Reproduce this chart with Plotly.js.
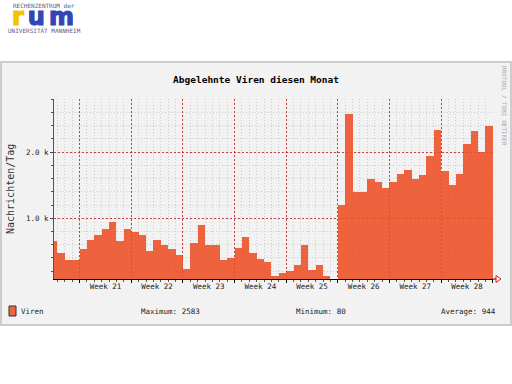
<!DOCTYPE html>
<html><head><meta charset="utf-8">
<script src="https://cdn.plot.ly/plotly-3.0.1.min.js"></script>
<style>html,body{margin:0;padding:0;background:#fff;}#chart{width:512px;height:384px;}</style>
</head><body><div id="chart"></div>
<script>
// ---- data ----
const dayOffsets = [-4,-3,-2,-1,0,1,2,3,4,5,6,7,8,9,10,11,12,13,14,15,16,17,18,19,20,21,22,23,24,25,26,27,28,29,30,31,32,33,34,35,36,37,38,39,40,41,42,43,44,45,46,47,48,49,50,51,52,53,54,55];
const virenPerDay = [659,473,371,371,533,674,739,836,942,648,836,791,750,508,674,598,533,436,235,624,891,598,598,361,397,548,709,473,390,330,133,170,194,295,598,220,285,118,80,1205,2583,1391,1391,1594,1542,1452,1542,1674,1724,1594,1659,1947,2341,1709,1508,1674,2129,2326,2003,2402];
const weekStarts = [0,7,14,21,28,35,42,49,56];
const weekLabels = ["Week 21","Week 22","Week 23","Week 24","Week 25","Week 26","Week 27","Week 28"];
const yTickValues = [1000,2000];
const yTickLabels = ["1.0 k","2.0 k"];
const seriesName = "Viren";
const statLabels = ["Maximum: 2583","Minimum: 80","Average: 944"];

// ---- geometry helpers (pixel -> paper) ----
const L=54, R=493, T=99, B=279;
const px = x => (x-L)/(R-L);
const py = y => (B-y)/(B-T);
const MONO = 'DejaVu Sans Mono, Liberation Mono, monospace';
const barColor = 'rgba(237,75,33,0.86)';
const xRange = [-3.47, 56.03];
// label positions: middle of each week
const weekMids = weekLabels.map((_, i) => weekStarts[i] + 3.5);

const bars = {
  type:'bar', x:dayOffsets, y:virenPerDay, offset:0, width:1,
  name:seriesName, marker:{color:barColor, line:{width:0}}, hoverinfo:'skip'
};
const weekAxisCarrier = {
  type:'scatter', xaxis:'x2', yaxis:'y', x:weekStarts, y:weekStarts.map(() => null),
  mode:'none', hoverinfo:'skip', showlegend:false
};

const majorGrid = 'rgba(190,40,40,0.85)';
const minorGrid = '#cdcdcd';

const bigStyle = 'letter-spacing:4px;stroke-width:1.2px';
const logoLetters =
  `<span style="${bigStyle};color:#f2c400;stroke:#f2c400">r</span>` +
  `<span style="${bigStyle};color:#3345b5;stroke:#3345b5">um</span>`;

const layout = {
  width:512, height:384,
  margin:{l:L, r:512-R, t:T, b:384-B, pad:0},
  paper_bgcolor:'#ffffff', plot_bgcolor:'#ffffff',
  showlegend:false, bargap:0,
  font:{family:MONO, size:7.5, color:'#222'},
  title:{text:'Abgelehnte Viren diesen Monat', x:0.5, xref:'container', xanchor:'center',
         y:1-80/384, yref:'container', yanchor:'middle',
         font:{family:MONO, size:9.5, color:'#000', weight:'bold'}},
  xaxis:{range:xRange, tickmode:'array', tickvals:weekMids, ticktext:weekLabels,
         showgrid:false, ticks:'', showline:true, linecolor:'#000', linewidth:1,
         zeroline:false, fixedrange:true, tickfont:{family:MONO, size:7.5, color:'#222'},
         minor:{tickmode:'linear', tick0:0, dtick:1, showgrid:true, gridcolor:minorGrid,
                griddash:'1px,2px', gridwidth:1, ticks:'outside', ticklen:2, tickcolor:'#555'}},
  xaxis2:{range:xRange, overlaying:'x', anchor:'y', side:'bottom', tickmode:'array', tickvals:weekStarts,
          showticklabels:false, showgrid:true, gridcolor:majorGrid, griddash:'2px,2px', gridwidth:1,
          ticks:'outside', ticklen:3, tickcolor:'#000', showline:false, zeroline:false, fixedrange:true},
  yaxis:{range:[80,2805], tickmode:'array', tickvals:yTickValues, ticktext:yTickLabels,
         showgrid:true, gridcolor:majorGrid, griddash:'2px,2px', gridwidth:1,
         ticks:'outside', ticklen:3, tickcolor:'#444', showline:true, linecolor:'#555', linewidth:1,
         zeroline:false, fixedrange:true, tickfont:{family:MONO, size:7.5, color:'#222'},
         minor:{tickmode:'linear', tick0:0, dtick:200, showgrid:true, gridcolor:minorGrid,
                griddash:'1px,2px', gridwidth:1, ticks:'outside', ticklen:2, tickcolor:'#555'}},
  shapes:[
    {type:'rect', xref:'paper', yref:'paper', layer:'below',
     x0:px(1), x1:px(511), y0:py(62), y1:py(325),
     fillcolor:'#f2f2f2', line:{color:'#cdcdcd', width:2}},
    {type:'line', xref:'paper', yref:'paper', x0:px(493), x1:px(496), y0:py(279), y1:py(279),
     line:{color:'#000', width:1}},
    {type:'path', xref:'paper', yref:'paper',
     path:`M${px(496)},${py(275.5)} L${px(501)},${py(279)} L${px(496)},${py(282.5)} Z`,
     fillcolor:'rgba(0,0,0,0)', line:{color:'#e02020', width:1}},
    {type:'rect', xref:'paper', yref:'paper', x0:px(9), x1:px(16), y0:py(306), y1:py(316),
     fillcolor:'#f06642', line:{color:'#333', width:1}}
  ],
  annotations:[
    {xref:'paper', yref:'paper', x:px(19), y:py(311), xanchor:'left', yanchor:'middle', showarrow:false,
     text:seriesName, font:{family:MONO, size:7.5, color:'#222'}},
    {xref:'paper', yref:'paper', x:px(139), y:py(311), xanchor:'left', yanchor:'middle', showarrow:false,
     text:statLabels[0], font:{family:MONO, size:7.5, color:'#222'}},
    {xref:'paper', yref:'paper', x:px(294), y:py(311), xanchor:'left', yanchor:'middle', showarrow:false,
     text:statLabels[1], font:{family:MONO, size:7.5, color:'#222'}},
    {xref:'paper', yref:'paper', x:px(498), y:py(311), xanchor:'right', yanchor:'middle', showarrow:false,
     text:statLabels[2], font:{family:MONO, size:7.5, color:'#222'}},
    {xref:'paper', yref:'paper', x:px(10), y:py(189), xanchor:'center', yanchor:'middle', showarrow:false,
     textangle:-90, text:'Nachrichten/Tag', font:{family:MONO, size:10, color:'#333'}},
    {xref:'paper', yref:'paper', x:px(505), y:py(106), xanchor:'center', yanchor:'middle', showarrow:false,
     textangle:90, text:'RRDTOOL / TOBI OETIKER', font:{family:MONO, size:6, color:'#a8a8a8'}},
    // logo
    {xref:'paper', yref:'paper', x:px(44), y:py(5), xanchor:'center', yanchor:'middle', showarrow:false,
     text:'RECHENZENTRUM der', font:{family:MONO, size:6, color:'#56608f'}},
    {xref:'paper', yref:'paper', x:px(45), y:py(16.5), xanchor:'center', yanchor:'middle', showarrow:false,
     text:logoLetters, font:{family:'DejaVu Sans', size:24, color:'#3345b5', weight:'bold'}},
    {xref:'paper', yref:'paper', x:px(44), y:py(30), xanchor:'center', yanchor:'middle', showarrow:false,
     text:'UNIVERSITÄT MANNHEIM', font:{family:MONO, size:6, color:'#56608f'}}
  ]
};

Plotly.newPlot('chart', [bars, weekAxisCarrier], layout, {displayModeBar:false, staticPlot:true});
</script>
</body></html>
